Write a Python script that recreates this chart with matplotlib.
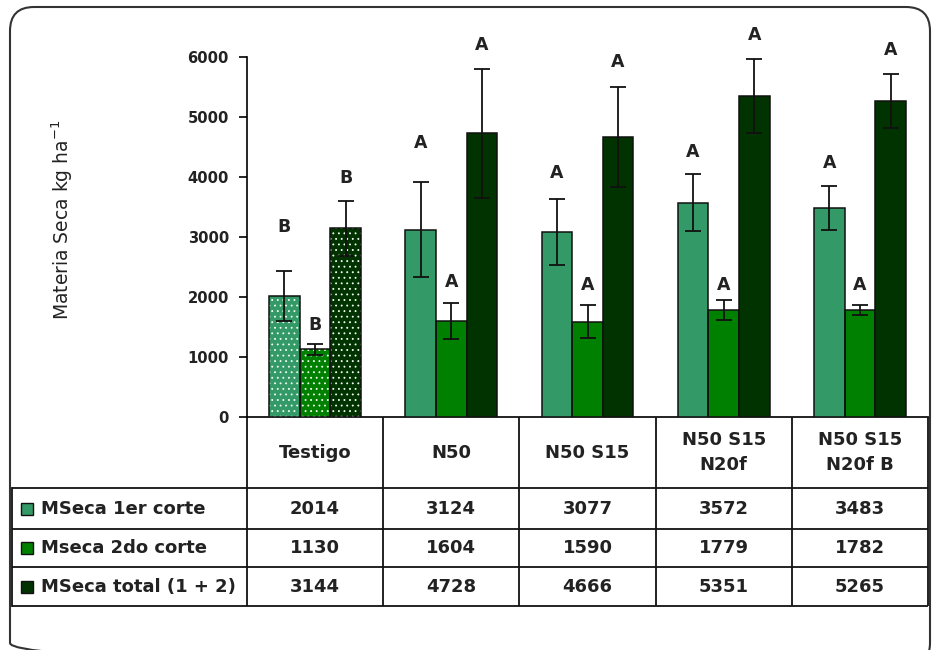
import matplotlib
matplotlib.use('Agg')
import matplotlib.pyplot as plt
import numpy as np
from matplotlib.patches import FancyBboxPatch, Rectangle
import matplotlib.transforms as mtransforms

# ---------------- data ----------------
categories = ['Testigo', 'N50', 'N50 S15', 'N50 S15\nN20f', 'N50 S15\nN20f B']
series_names = ['MSeca 1er corte', 'Mseca 2do corte', 'MSeca total (1 + 2)']
mseca_1 = [2014, 3124, 3077, 3572, 3483]
mseca_2 = [1130, 1604, 1590, 1779, 1782]
mseca_total = [3144, 4728, 4666, 5351, 5265]
err_1 = [420, 790, 550, 470, 360]
err_2 = [90, 300, 270, 170, 90]
err_total = [460, 1070, 830, 620, 450]
letters_1 = ['B', 'A', 'A', 'A', 'A']
letters_2 = ['B', 'A', 'A', 'A', 'A']
letters_total = ['B', 'A', 'A', 'A', 'A']
letter_y_1 = [3167, 4567, 4067, 4417, 4233]
letter_y_2 = [1533, 2250, 2200, 2200, 2200]
letter_y_total = [3983, 6200, 5917, 6367, 6117]
dotted = [True, False, False, False, False]
yticks = [0, 1000, 2000, 3000, 4000, 5000, 6000]
ylabel = 'Materia Seca kg ha$^{-1}$'

colors = ['#339966', '#008000', '#003300']

plt.rcParams['hatch.linewidth'] = 0.6

# ---------------- figure ----------------
W, H = 934, 650
fig = plt.figure(figsize=(W / 100, H / 100), dpi=100)
fig.patch.set_facecolor('white')
ov = fig.add_axes([0, 0, 1, 1])
ov.set_xlim(0, W)
ov.set_ylim(H, 0)
ov.axis('off')

FONT = 'DejaVu Sans'
TXT = '#222222'

# outer rounded frame
frame = FancyBboxPatch((10, 7), 920, 660, boxstyle='round,pad=0,rounding_size=24',
                       facecolor='none', edgecolor='#333333', linewidth=1.5, clip_on=True)
ov.add_patch(frame)

ax = fig.add_axes([247 / W, (H - 417) / H, (928 - 247) / W, (417 - 57) / H])
ax.set_xlim(-0.5, 4.5)
ax.set_ylim(0, 6000)
ax.patch.set_alpha(0)
for s in ['top', 'right', 'bottom']:
    ax.spines[s].set_visible(False)
ax.spines['left'].set_linewidth(1.2)
ax.set_xticks([])
ax.set_yticks(yticks)
ax.set_yticklabels([str(t) for t in yticks], fontsize=10.6, fontweight='bold',
                   color=TXT, family=FONT)
ax.tick_params(axis='y', length=6, width=1.2, direction='out', pad=7)

x = np.arange(len(categories))
bw = 0.225
series = [
    (mseca_1, err_1, letters_1, letter_y_1),
    (mseca_2, err_2, letters_2, letter_y_2),
    (mseca_total, err_total, letters_total, letter_y_total),
]
for si, (vals, errs, lets, ly) in enumerate(series):
    xp = x + (si - 1) * bw
    ax.bar(xp, vals, width=bw, color=colors[si], linewidth=0, zorder=2)
    for i in range(len(categories)):
        if dotted[i]:
            ax.bar(xp[i], vals[i], width=bw, facecolor='none', edgecolor='#f0fff0',
                   hatch='...', linewidth=0, zorder=3)
    ax.bar(xp, vals, width=bw, facecolor='none', edgecolor='#111111', linewidth=1.1, zorder=4)
    ax.errorbar(xp, vals, yerr=errs, fmt='none', ecolor='#111111', elinewidth=1.3,
                capsize=5.5, capthick=1.3, zorder=5)
    for i in range(len(categories)):
        ax.text(xp[i], ly[i], lets[i], ha='center', va='center', fontsize=12.5,
                fontweight='bold', color=TXT, family=FONT, clip_on=False)

# y label
ov.text(62, 220, ylabel, rotation=90, ha='center', va='center', fontsize=13.5,
        color=TXT, family=FONT)

# ---------------- table ----------------
trans = mtransforms.blended_transform_factory(ax.transData, ov.transData)
y_top, y_head, rows_y = 417, 488, [529, 567, 606]
lc = '#111111'
lw = 1.3
for b in np.arange(len(categories) + 1) - 0.5:
    ov.plot([b, b], [y_top, rows_y[-1]], color=lc, lw=lw, transform=trans, solid_capstyle='butt')
ov.plot([-0.5, 4.5], [y_top, y_top], color=lc, lw=lw, transform=trans)
x_left_px = 12
for yy in [y_head] + rows_y:
    ov.plot([x_left_px, 928], [yy, yy], color=lc, lw=lw, solid_capstyle='butt')
ov.plot([x_left_px, x_left_px], [y_head, rows_y[-1]], color=lc, lw=lw)

for i, c in enumerate(categories):
    ov.text(i, (y_top + y_head) / 2, c, transform=trans, ha='center', va='center',
            fontsize=13, fontweight='bold', color=TXT, family=FONT, linespacing=1.55)

row_tops = [y_head] + rows_y[:-1]
all_vals = [mseca_1, mseca_2, mseca_total]
for r in range(3):
    yc = (row_tops[r] + rows_y[r]) / 2
    ov.add_patch(Rectangle((21, yc - 6), 12, 12, facecolor=colors[r], edgecolor='#111111', lw=1))
    ov.text(41, yc, series_names[r], ha='left', va='center', fontsize=13,
            fontweight='bold', color=TXT, family=FONT)
    for i, v in enumerate(all_vals[r]):
        ov.text(i, yc, str(v), transform=trans, ha='center', va='center', fontsize=13,
                fontweight='bold', color=TXT, family=FONT)

fig.savefig('out.png', dpi=100)
